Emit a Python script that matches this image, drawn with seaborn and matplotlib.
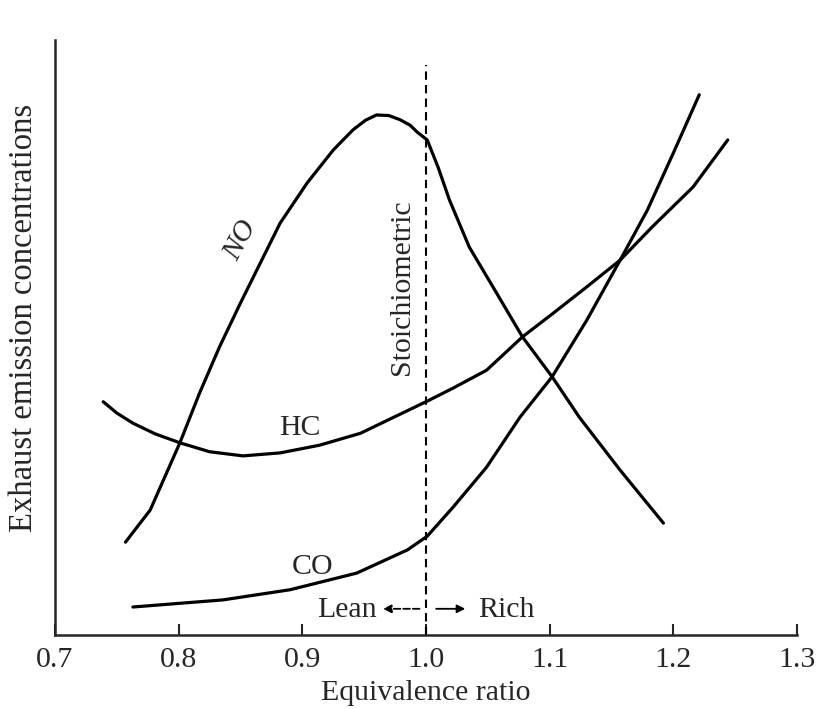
import numpy as np
import pandas as pd
import seaborn as sns
import matplotlib.pyplot as plt

# equivalence ratio vs. relative concentration (0-100)
no_phi = [0.757, 0.777, 0.801, 0.817, 0.833, 0.850, 0.866, 0.882, 0.904, 0.925, 0.941,
          0.951, 0.960, 0.970, 0.979, 0.987, 0.993, 1.001, 1.010, 1.019, 1.035, 1.057,
          1.078, 1.102, 1.124, 1.157, 1.192]
no_conc = [15.6, 21.0, 32.3, 40.7, 48.4, 55.8, 62.5, 69.2, 76.0, 81.5, 84.9,
           86.5, 87.4, 87.3, 86.6, 85.7, 84.5, 83.2, 78.5, 73.1, 65.2, 57.5,
           50.1, 43.4, 36.6, 27.7, 18.8]

hc_phi = [0.739, 0.750, 0.763, 0.781, 0.801, 0.825, 0.852, 0.882, 0.914, 0.947, 0.973,
          1.001, 1.022, 1.049, 1.078, 1.103, 1.130, 1.157, 1.183, 1.216, 1.244]
hc_conc = [39.2, 37.3, 35.6, 33.8, 32.3, 30.8, 30.1, 30.6, 31.9, 33.9, 36.5,
           39.3, 41.5, 44.5, 50.1, 54.1, 58.5, 63.0, 68.6, 75.3, 83.2]

co_phi = [0.763, 0.836, 0.890, 0.944, 0.985, 1.001, 1.022, 1.049, 1.076, 1.102,
          1.130, 1.157, 1.179, 1.200, 1.221]
co_conc = [4.7, 5.9, 7.6, 10.4, 14.3, 16.6, 21.5, 28.2, 36.6, 43.4,
           52.9, 63.0, 71.4, 81.0, 90.8]

xticks = [0.7, 0.8, 0.9, 1.0, 1.1, 1.2, 1.3]
xticklabels = ['0.7', '0.8', '0.9', '1.0', '1.1', '1.2', '1.3']

sns.set_style("ticks")
plt.rcParams['font.family'] = ['Liberation Serif', 'DejaVu Serif']
fs = 21.5

fig = plt.figure(figsize=(8.17, 7.09), dpi=100)
ax = fig.add_axes([0.0673, 0.1044, 0.9082, 0.8392])

for phi, conc in [(no_phi, no_conc), (hc_phi, hc_conc), (co_phi, co_conc)]:
    df = pd.DataFrame({'phi': phi, 'conc': conc})
    sns.lineplot(data=df, x='phi', y='conc', color='black', lw=2.3,
                 estimator=None, sort=False, ax=ax)

# stoichiometric line
ax.vlines(1.0, 0, 95.8, colors='black', linestyles=(0, (4, 2.5)), lw=1.5)

ax.set_xlim(0.7, 1.3)
ax.set_ylim(0, 100)
ax.set_xticks(xticks)
ax.set_xticklabels(xticklabels)
ax.set_yticks([])
ax.tick_params(axis='x', direction='in', length=8, width=1.5, labelsize=fs, pad=9)
for s in ['top', 'right']:
    ax.spines[s].set_visible(False)
for s in ['left', 'bottom']:
    ax.spines[s].set_linewidth(1.8)

ax.set_xlabel('Equivalence ratio', fontsize=fs, labelpad=5)
ax.set_ylabel('Exhaust emission concentrations', fontsize=23.5)
ax.yaxis.set_label_coords(-0.021, 0.533)

# curve labels
ax.text(0.850, 66.4, 'NO', style='italic', rotation=62, ha='center', va='center', fontsize=fs)
ax.text(0.898, 34.8, 'HC', ha='center', va='center', fontsize=fs)
ax.text(0.908, 11.4, 'CO', ha='center', va='center', fontsize=fs)
ax.text(0.981, 58.5, 'Stoichiometric', rotation=90, ha='center', va='center', fontsize=fs)

# lean / rich arrows
ax.text(0.9604, 4.2, 'Lean', ha='right', va='center', fontsize=fs)
ax.annotate('', xy=(0.963, 4.4), xytext=(0.997, 4.4),
            arrowprops=dict(arrowstyle='-|>', color='black', lw=1.3, ls='--',
                            mutation_scale=12))
ax.annotate('', xy=(1.034, 4.4), xytext=(1.006, 4.4),
            arrowprops=dict(arrowstyle='-|>', color='black', lw=1.3,
                            mutation_scale=12))
ax.text(1.042, 4.2, 'Rich', ha='left', va='center', fontsize=fs)

fig.savefig('out.png', dpi=100)
